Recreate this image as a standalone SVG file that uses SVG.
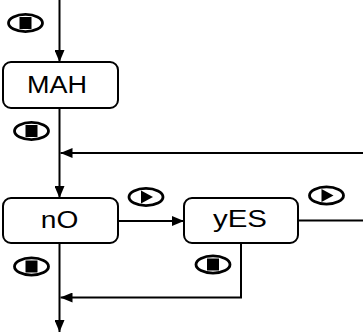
<svg xmlns="http://www.w3.org/2000/svg" width="363" height="333" viewBox="0 0 363 333">
<style>
.box{fill:#fff;stroke:#000;stroke-width:2}
.lbl{font-family:"Liberation Sans",Arial,sans-serif;font-size:24.5px;fill:#000;text-anchor:middle}
.ln{fill:none;stroke:#000;stroke-width:2}
.ic{fill:#fff;stroke:#000;stroke-width:2.8}
</style>
<defs>
<marker id="ah" viewBox="0 0 12 10" refX="12" refY="5" markerWidth="12" markerHeight="10" markerUnits="userSpaceOnUse" orient="auto">
<path d="M0,0 L12,5 L0,10 Z" fill="#000"/>
</marker>
<g id="stop"><ellipse cx="0" cy="0" rx="17" ry="8.6" class="ic"/><rect x="-6" y="-6" width="12" height="12" fill="#000"/></g>
<g id="play"><ellipse cx="0" cy="0" rx="17" ry="8.6" class="ic"/><path d="M-5,-6.5 L7,0 L-5,6.5 Z" fill="#000"/></g>
</defs>
<g id="connectors">
<line x1="59.5" y1="0" x2="59.5" y2="62" class="ln" marker-end="url(#ah)"/>
<line x1="59.5" y1="108" x2="59.5" y2="198" class="ln" marker-end="url(#ah)"/>
<line x1="363" y1="153" x2="60.5" y2="153" class="ln" marker-end="url(#ah)"/>
<line x1="118" y1="221" x2="184" y2="221" class="ln" marker-end="url(#ah)"/>
<line x1="298" y1="220.5" x2="363" y2="220.5" class="ln"/>
<polyline points="241,243 241,297.5 60.5,297.5" class="ln" marker-end="url(#ah)"/>
<line x1="59.5" y1="243" x2="59.5" y2="332" class="ln" marker-end="url(#ah)"/>
</g>
<g id="icons">
<use href="#stop" x="25.5" y="23"/>
<use href="#stop" x="31.5" y="131"/>
<use href="#play" x="146" y="197"/>
<use href="#play" x="326.5" y="195.5"/>
<use href="#stop" x="31.5" y="266.5"/>
<use href="#stop" x="213" y="264.5"/>
</g>
<g id="node-mah">
<rect x="3" y="62" width="115" height="46" rx="8" class="box"/>
<text x="57" y="93.3" class="lbl" textLength="60" lengthAdjust="spacingAndGlyphs">MAH</text>
</g>
<g id="node-no">
<rect x="3" y="198" width="115" height="45" rx="8" class="box"/>
<text x="59.5" y="228.3" class="lbl" textLength="37.5" lengthAdjust="spacingAndGlyphs">nO</text>
</g>
<g id="node-yes">
<rect x="184" y="198" width="114" height="45" rx="8" class="box"/>
<text x="240" y="227.3" class="lbl" textLength="54" lengthAdjust="spacingAndGlyphs">yES</text>
</g>
</svg>
